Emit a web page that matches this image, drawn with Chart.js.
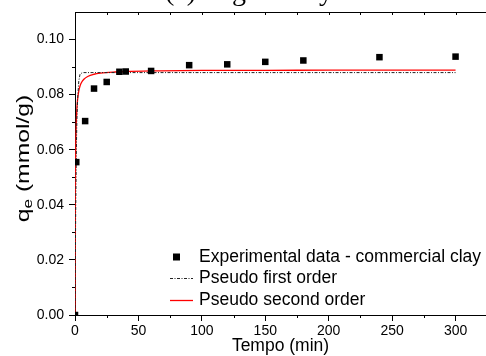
<!DOCTYPE html>
<html>
<head>
<meta charset="utf-8">
<script src="https://cdn.jsdelivr.net/npm/chart.js@4/dist/chart.umd.min.js"></script>
<style>
  html, body { margin: 0; padding: 0; background: #fff; }
  #wrap { width: 486px; height: 356px; }
</style>
</head>
<body>
<div id="wrap"><canvas id="kinetics" width="486" height="356"></canvas></div>
<script>
// experimental points
const tExp = [0, 1, 8, 15, 25, 35, 40, 60, 90, 120, 150, 180, 240, 300];
const qExp = [0, 0.0555, 0.0704, 0.0822, 0.0846, 0.0883, 0.0884, 0.0886, 0.0907, 0.0910, 0.0919, 0.0924, 0.0936, 0.0938];

// pseudo first order fit
const tPfo = [0, 0.5, 1, 1.5, 2, 3, 4, 6, 10, 300];
const qPfo = [0, 0.035, 0.058, 0.071, 0.078, 0.085, 0.0875, 0.088, 0.088, 0.088];

// pseudo second order fit
const tPso = [0, 0.25, 0.5, 1, 1.5, 2, 3, 4, 5, 7, 10, 15, 20, 30, 40, 60, 100, 150, 200, 300];
const qPso = [0, 0.042, 0.0571, 0.0696, 0.075, 0.0781, 0.0814, 0.0832, 0.0843, 0.0856, 0.0866, 0.0874, 0.0878, 0.0882, 0.0884, 0.0886, 0.0888, 0.0888, 0.0889, 0.0889];

const xTicks = [0, 50, 100, 150, 200, 250, 300];
const xMinor = [25, 75, 125, 175, 225, 275, 325];
const yTicks = [0, 0.02, 0.04, 0.06, 0.08, 0.10];
const yMinor = [0.01, 0.03, 0.05, 0.07, 0.09];

const legendLabels = ['Experimental data - commercial clay', 'Pseudo first order', 'Pseudo second order'];
const chartTitle = '(a) Organoclay';

const sans = 'Arial, "Liberation Sans", sans-serif';
const pts = (xs, ys) => xs.map((x, i) => ({x: x, y: ys[i]}));

const extras = {
    id: 'extras',
    afterDraw(chart) {
        const {ctx, chartArea: a, scales: {x, y}} = chart;
        ctx.save();
        ctx.strokeStyle = '#000';
        ctx.lineWidth = 1;

        // top frame line with inward ticks
        ctx.beginPath();
        ctx.moveTo(a.left, a.top + 0.5);
        ctx.lineTo(a.right, a.top + 0.5);
        [...xTicks, ...xMinor].forEach(v => {
            const px = Math.round(x.getPixelForValue(v)) + 0.5;
            if (px > a.right) return;
            ctx.moveTo(px, a.top);
            ctx.lineTo(px, a.top + 3);
        });
        // minor ticks, bottom and left
        xMinor.forEach(v => {
            const px = Math.round(x.getPixelForValue(v)) + 0.5;
            if (px > a.right) return;
            ctx.moveTo(px, a.bottom);
            ctx.lineTo(px, a.bottom + 3);
        });
        yMinor.forEach(v => {
            const py = Math.round(y.getPixelForValue(v)) + 0.5;
            ctx.moveTo(a.left - 3, py);
            ctx.lineTo(a.left, py);
        });
        ctx.stroke();

        // y axis title with subscript, stretched along the text like the original
        ctx.fillStyle = '#000';
        ctx.translate(24, 158.5);
        ctx.rotate(-Math.PI / 2);
        ctx.scale(1.37, 1);
        ctx.textBaseline = 'middle';
        ctx.font = '18px ' + sans;
        const w1 = ctx.measureText('q').width;
        ctx.font = '12.5px ' + sans;
        const w2 = ctx.measureText('e').width;
        ctx.font = '18px ' + sans;
        const w3 = ctx.measureText(' (mmol/g)').width;
        let cx = -(w1 + w2 + w3) / 2;
        ctx.fillText('q', cx, 0);
        cx += w1;
        ctx.font = '12.5px ' + sans;
        ctx.fillText('e', cx, 5);
        cx += w2;
        ctx.font = '18px ' + sans;
        ctx.fillText(' (mmol/g)', cx, 0);
        ctx.setTransform(1, 0, 0, 1, 0, 0);

        // chart title, mostly above the canvas
        ctx.font = '28px "Liberation Serif", "Times New Roman", serif';
        ctx.textAlign = 'center';
        ctx.textBaseline = 'alphabetic';
        ctx.fillText(chartTitle, 249, 0);

        // legend
        const lx = 170, tx = 199, rows = [257, 278, 300];
        const ds = chart.data.datasets;
        ctx.textAlign = 'left';
        ctx.textBaseline = 'middle';
        ctx.font = '17.5px ' + sans;
        ds.forEach((d, i) => {
            const ry = rows[i];
            if (i === 0) {
                ctx.fillStyle = d.backgroundColor;
                ctx.fillRect(lx + 3, ry - 3.5, 7, 7);
            } else {
                ctx.beginPath();
                ctx.strokeStyle = d.borderColor;
                ctx.lineWidth = d.borderWidth;
                ctx.setLineDash(d.borderDash || []);
                ctx.moveTo(lx, ry + 0.5);
                ctx.lineTo(lx + 23, ry + 0.5);
                ctx.stroke();
                ctx.setLineDash([]);
            }
            ctx.fillStyle = '#000';
            ctx.fillText(legendLabels[i], tx, ry);
        });
        ctx.restore();
    }
};

const data = {
    datasets: [{
        label: legendLabels[0],
        data: pts(tExp, qExp),
        pointStyle: 'rect',
        pointRadius: 4.6,
        backgroundColor: '#000',
        borderColor: '#000',
        borderWidth: 0,
        showLine: false
    }, {
        label: legendLabels[1],
        data: pts(tPfo, qPfo),
        showLine: true,
        pointRadius: 0,
        borderColor: '#222',
        borderWidth: 1,
        borderDash: [3, 1.5, 1, 1.5],
        tension: 0
    }, {
        label: legendLabels[2],
        data: pts(tPso, qPso),
        showLine: true,
        pointRadius: 0,
        borderColor: 'rgb(255, 0, 0)',
        borderWidth: 1.3,
        cubicInterpolationMode: 'monotone'
    }]
};

const options = {
    responsive: false,
    animation: false,
    layout: {autoPadding: false, padding: {top: 12, right: 0, bottom: 0, left: 0}},
    plugins: {
        legend: {display: false},
        tooltip: {enabled: false}
    },
    scales: {
        x: {
            type: 'linear',
            min: 0,
            max: 324,
            afterFit: s => { s.height = 41; s.paddingLeft = 0; s.paddingRight = 0; },
            afterBuildTicks: s => { s.ticks = xTicks.map(v => ({value: v})); },
            border: {color: '#000', width: 1},
            grid: {drawOnChartArea: false, tickLength: 6, tickColor: '#000'},
            ticks: {color: '#000', font: {family: sans, size: 14}, padding: 2, maxRotation: 0},
            title: {display: true, text: 'Tempo (min)', color: '#000', font: {family: sans, size: 17.5}, padding: {top: 0, bottom: -1}}
        },
        y: {
            type: 'linear',
            min: 0,
            max: 0.11,
            afterFit: s => { s.width = 75; s.paddingTop = 0; s.paddingBottom = 0; },
            afterBuildTicks: s => { s.ticks = yTicks.map(v => ({value: v})); },
            border: {color: '#000', width: 1},
            grid: {drawOnChartArea: false, tickLength: 6, tickColor: '#000'},
            ticks: {color: '#000', font: {family: sans, size: 14}, padding: 5, callback: v => v.toFixed(2)}
        }
    }
};

const chart = new Chart(document.getElementById('kinetics'), {
    type: 'scatter',
    data: data,
    options: options,
    plugins: [extras]
});
</script>
</body>
</html>
